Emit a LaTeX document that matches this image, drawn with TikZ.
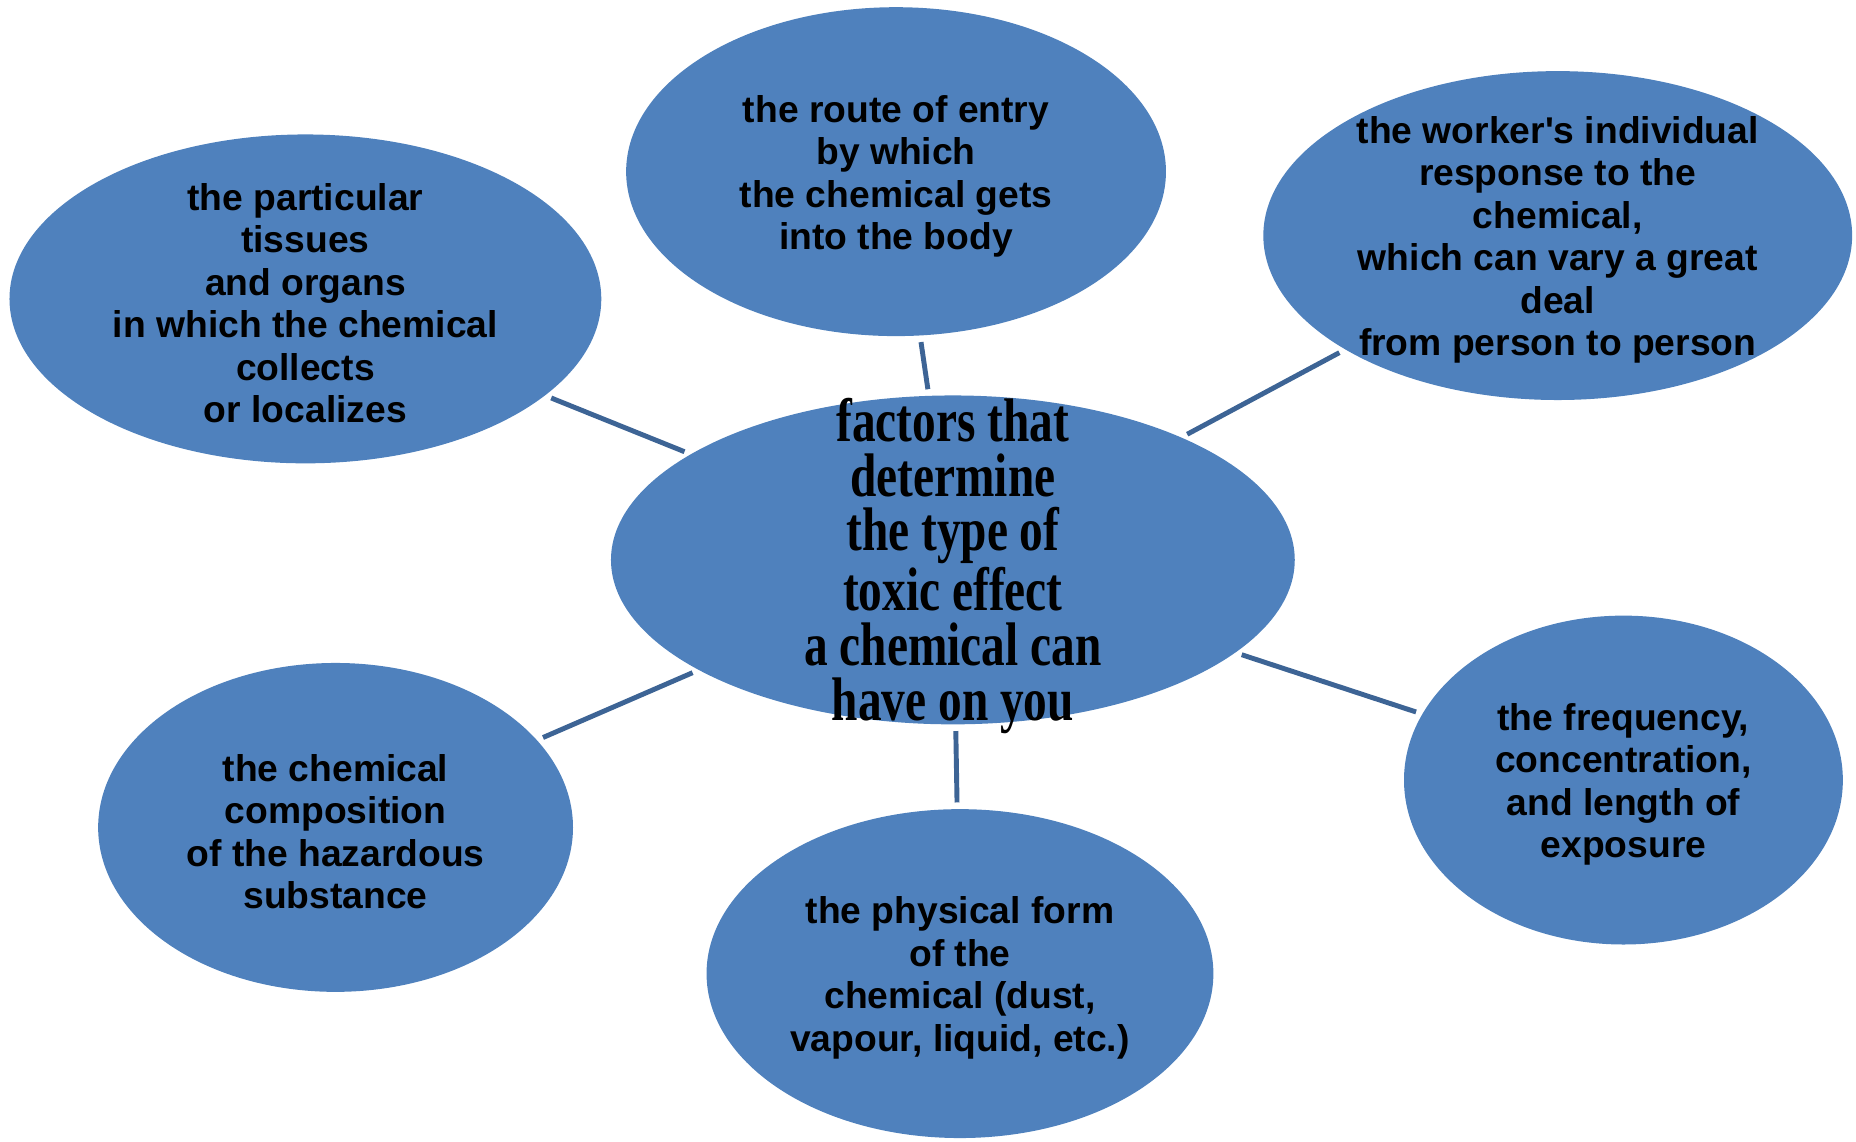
\documentclass[tikz,border=0pt]{standalone}
\usepackage{fontspec}
\setsansfont{Liberation Sans}
\newfontfamily\headfont[FakeStretch=0.77]{Liberation Serif}
\usetikzlibrary{shapes.geometric}
\definecolor{BubbleBlue}{HTML}{4F81BD}
\definecolor{LinkBlue}{HTML}{3D6495}
\tikzset{
  bubble/.style={ellipse, fill=BubbleBlue, inner sep=0pt, minimum height=3.29cm},
  bubbletext/.style={align=center, yshift=-0.045cm, font=\sffamily\bfseries\fontsize{10.6}{12.1}\selectfont},
  headtext/.style={align=center, yshift=-0.06cm, font=\headfont\bfseries\fontsize{17.5}{15.6}\selectfont},
  link/.style={LinkBlue, line width=1.4pt, shorten <=0.06cm, shorten >=0.06cm}
}

\begin{document}
\begin{tikzpicture}[x=0.011837cm, y=-0.011837cm]

    \useasboundingbox (0,0) rectangle (1568,964);

    % Bubbles
    \node[bubble, minimum width=6.84cm] (centre) at (805,473) {};
    \node[bubble, minimum width=5.40cm] (route) at (757,145) {};
    \node[bubble, minimum width=5.92cm] (tissues) at (258,252.5) {};
    \node[bubble, minimum width=5.89cm] (response) at (1316,199) {};
    \node[bubble, minimum width=4.39cm] (exposure) at (1371.5,659) {};
    \node[bubble, minimum width=5.07cm] (form) at (811,822.5) {};
    \node[bubble, minimum width=4.75cm] (composition) at (283.5,699) {};

    % Links
    \foreach \n in {route, tissues, response, exposure, form, composition}
        \draw[link] (centre) -- (\n);

    % Texts
    \node[headtext] (centre-text) at (centre) {factors that\\determine\\the type of\\toxic effect\\a chemical can\\have on you};
    \node[bubbletext] (route-text) at (route) {the route of entry\\by which\\the chemical gets\\into the body};
    \node[bubbletext] (tissues-text) at (tissues) {the particular\\tissues\\and organs\\in which the chemical\\collects\\or localizes};
    \node[bubbletext] (response-text) at (response) {the worker\textquotesingle s individual\\response to the\\chemical,\\which can vary a great\\deal\\from person to person};
    \node[bubbletext] (exposure-text) at (exposure) {the frequency,\\concentration,\\and length of\\exposure};
    \node[bubbletext] (form-text) at (form) {the physical form\\of the\\chemical (dust,\\vapour, liquid, etc.)};
    \node[bubbletext] (composition-text) at (composition) {the chemical\\composition\\of the hazardous\\substance};

\end{tikzpicture}
\end{document}
